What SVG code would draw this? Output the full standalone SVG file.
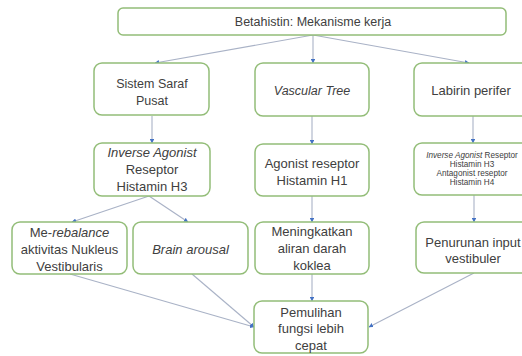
<svg xmlns="http://www.w3.org/2000/svg" width="522" height="356" viewBox="0 0 522 356">
<style>
.box{fill:#fff;stroke:#93bd78;stroke-width:1.5}
.t{font-family:"Liberation Sans",Arial,sans-serif;font-size:13px;fill:#404040;text-anchor:middle}
.s{font-size:12.5px}
.xs{font-size:8.2px}
.i{font-style:italic}
.c{stroke:#a9b2c6;stroke-width:1.1;fill:none;marker-end:url(#a)}
</style>
<defs>
<marker id="a" viewBox="0 0 6 6" refX="5.5" refY="3" markerWidth="4.5" markerHeight="4.5" orient="auto" markerUnits="userSpaceOnUse">
<path d="M0,0 L6,3 L0,6 z" fill="#4472c4"/>
</marker>
</defs>
<rect width="522" height="356" fill="#fff"/>
<g id="connectors">
<line class="c" x1="313" y1="35" x2="155" y2="63"/>
<line class="c" x1="313" y1="35" x2="313" y2="63"/>
<line class="c" x1="313" y1="35" x2="469" y2="63"/>
<line class="c" x1="152" y1="116" x2="152" y2="143"/>
<line class="c" x1="312" y1="116" x2="312" y2="144"/>
<line class="c" x1="473" y1="116" x2="473" y2="143"/>
<line class="c" x1="149" y1="196" x2="72" y2="222"/>
<line class="c" x1="149" y1="196" x2="188" y2="222"/>
<line class="c" x1="312" y1="196" x2="312" y2="222"/>
<line class="c" x1="474" y1="195" x2="474" y2="222"/>
<line class="c" x1="70" y1="274" x2="254" y2="327"/>
<line class="c" x1="192" y1="274" x2="254" y2="327"/>
<line class="c" x1="312" y1="274" x2="312" y2="301"/>
<line class="c" x1="474" y1="273" x2="369" y2="327"/>
</g>
<g id="n_top"><rect class="box" x="118" y="8" width="388" height="27" rx="5"/><text class="t s" x="313" y="26">Betahistin: Mekanisme kerja</text></g>
<g id="n_ssp"><rect class="box" x="94" y="63" width="115" height="52" rx="8"/><text class="t s" x="152" y="87.5">Sistem Saraf</text><text class="t s" x="152" y="104.5">Pusat</text></g>
<g id="n_vt"><rect class="box" x="255" y="63" width="114" height="53" rx="8"/><text class="t s i" x="312" y="94.5">Vascular Tree</text></g>
<g id="n_lp"><rect class="box" x="414" y="63" width="116" height="53" rx="8"/><text class="t" x="471" y="94.5">Labirin perifer</text></g>
<g id="n_ia"><rect class="box" x="94" y="143" width="116" height="53" rx="8"/><text class="t i" x="152" y="156.5">Inverse Agonist</text><text class="t" x="152" y="173.5">Reseptor</text><text class="t" x="152" y="190.5">Histamin H3</text></g>
<g id="n_ar"><rect class="box" x="255" y="144" width="114" height="52" rx="8"/><text class="t" x="312" y="167.5">Agonist reseptor</text><text class="t" x="312" y="184.5">Histamin H1</text></g>
<g id="n_iar"><rect class="box" x="414" y="143" width="116" height="52" rx="8"/><text class="t xs" x="472" y="158"><tspan class="i">Inverse Agonist</tspan> Reseptor</text><text class="t xs" x="472" y="167">Histamin H3</text><text class="t xs" x="472" y="176">Antagonist reseptor</text><text class="t xs" x="472" y="185">Histamin H4</text></g>
<g id="n_mr"><rect class="box" x="12" y="222" width="115" height="52" rx="8"/><text class="t" x="69.5" y="236.5">Me-<tspan class="i">rebalance</tspan></text><text class="t" x="69.5" y="253.5">aktivitas Nukleus</text><text class="t" x="69.5" y="270.5">Vestibularis</text></g>
<g id="n_ba"><rect class="box" x="133" y="222" width="115" height="52" rx="8"/><text class="t i" x="190.5" y="253.5">Brain arousal</text></g>
<g id="n_mk"><rect class="box" x="255" y="222" width="114" height="52" rx="8"/><text class="t" x="312" y="235.5">Meningkatkan</text><text class="t" x="312" y="252.5">aliran darah</text><text class="t" x="312" y="270">koklea</text></g>
<g id="n_pi"><rect class="box" x="416" y="222" width="114" height="51" rx="8"/><text class="t" x="473" y="246.5">Penurunan input</text><text class="t" x="473" y="263">vestibuler</text></g>
<g id="n_pf"><rect class="box" x="254" y="301" width="114" height="52" rx="8"/><text class="t" x="311" y="316.5">Pemulihan</text><text class="t" x="311" y="333">fungsi lebih</text><text class="t" x="311" y="349.5">cepat</text></g>
</svg>
